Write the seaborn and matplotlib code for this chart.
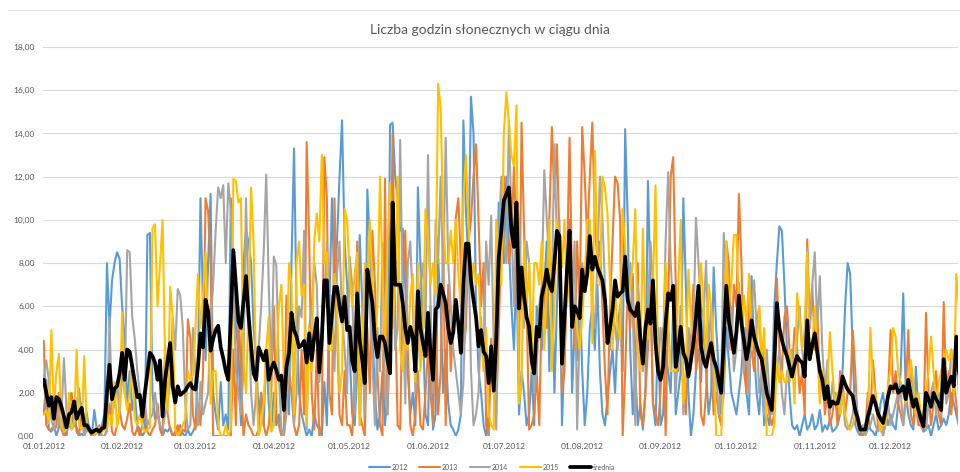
import numpy as np
import pandas as pd
import matplotlib
matplotlib.use("Agg")
import matplotlib.pyplot as plt
import seaborn as sns
from matplotlib.lines import Line2D

# ---------------- data (hours of sunshine per day) -------------
month_labels = ["01.01.2012", "01.02.2012", "01.03.2012", "01.04.2012", "01.05.2012",
                "01.06.2012", "01.07.2012", "01.08.2012", "01.09.2012", "01.10.2012",
                "01.11.2012", "01.12.2012"]
month_starts = [0, 31, 60, 91, 121, 152, 182, 213, 244, 274, 305, 335]
y_ticks = [0, 2, 4, 6, 8, 10, 12, 14, 16, 18]

y2012 = [
    1.0,2.6,0.3,0.2,0.5,0.0,0.4,1.2,0.3,0.0,0.8,0.5,1.5,0.2,0.0,0.1,0.0,1.1,0.2,0.0,1.2,0.3,0.0,0.5,1.0,8.0,5.0,7.2,8.0,8.5,8.2,
    6.0,4.5,1.5,3.0,1.2,2.0,0.5,0.3,0.0,0.2,9.3,9.4,2.0,0.8,1.0,0.5,0.0,0.3,0.2,0.4,0.0,0.0,0.3,0.5,0.1,0.0,0.3,0.0,0.2,
    0.5,3.0,11.0,6.0,3.5,8.0,11.2,2.0,1.0,0.3,2.5,0.5,1.0,0.3,11.0,8.0,5.0,4.0,0.5,8.0,9.5,9.0,8.0,5.0,3.5,1.0,2.0,0.5,4.0,1.5,0.3,
    2.0,0.5,1.0,0.3,0.0,3.0,1.0,8.0,13.3,6.0,2.0,1.0,0.5,0.0,0.3,0.0,1.0,0.5,0.3,0.0,2.5,0.5,6.0,11.0,7.0,9.0,12.0,14.6,9.0,7.0,
    4.0,1.0,0.5,3.0,9.3,6.0,0.5,11.4,9.0,5.0,2.0,0.3,1.0,3.0,0.5,2.0,14.4,14.5,12.0,11.0,9.5,9.6,7.0,3.0,1.0,2.0,0.5,11.5,8.0,5.0,1.0,
    0.5,6.0,0.3,1.0,8.2,6.0,2.0,4.0,1.5,0.5,0.3,0.0,0.3,1.0,14.6,10.4,8.0,15.7,14.0,6.0,3.0,2.0,0.5,0.0,1.0,3.5,2.0,6.0,10.8,10.0,
    8.0,12.0,9.0,6.0,4.0,8.0,1.0,3.0,2.0,0.5,1.0,3.0,0.5,6.0,5.0,4.0,7.0,9.0,3.0,8.0,2.0,6.0,9.0,0.5,4.0,7.0,10.0,2.0,5.0,3.5,7.0,
    3.0,0.5,2.0,5.0,6.0,4.0,7.0,3.0,1.0,0.5,1.7,3.0,4.0,2.0,5.0,6.0,3.0,14.2,10.0,4.0,1.0,3.0,0.5,1.5,0.3,2.0,11.8,7.0,1.5,0.5,5.0,
    0.5,1.0,4.0,3.0,2.0,6.0,1.0,2.0,3.0,11.0,7.0,2.0,0.0,1.0,3.0,4.0,2.5,5.5,3.0,1.0,2.0,7.8,5.0,3.0,1.0,2.0,5.0,3.5,2.0,1.5,
    1.0,2.0,3.0,5.0,2.0,1.0,7.4,4.0,2.0,1.0,3.0,0.5,1.0,0.5,2.0,6.0,8.0,9.7,9.5,7.0,4.0,2.0,0.5,0.3,0.5,0.0,0.5,1.0,0.3,0.5,1.0,
    0.3,0.5,1.2,0.2,0.5,0.3,0.8,0.2,0.3,0.5,1.0,3.0,6.0,8.0,7.5,4.0,0.5,0.2,0.0,0.3,0.5,1.0,0.3,0.2,0.0,0.5,1.5,2.0,1.0,0.5,
    1.0,0.5,0.3,1.5,3.0,6.6,2.0,1.0,0.5,0.3,3.2,1.0,0.5,0.2,0.3,0.5,0.0,0.5,1.0,0.3,0.5,0.8,0.5,1.0,2.0,1.5,1.0,0.5,1.0,2.0,1.5,
]

y2013 = [
    4.4,0.5,0.3,0.3,0.5,0.4,2.0,0.3,0.0,0.2,1.5,2.0,0.5,0.4,0.0,1.5,0.5,0.2,0.4,0.0,0.0,0.2,0.5,0.0,0.0,0.3,1.5,0.2,0.0,0.5,1.2,
    0.5,0.3,0.8,1.5,0.2,0.0,0.4,0.0,0.5,1.2,0.2,0.0,0.3,0.5,1.5,0.3,0.0,4.2,1.0,0.3,0.0,0.2,0.5,0.0,0.3,0.2,5.4,4.5,1.0,
    0.3,1.5,0.5,3.0,11.0,10.4,8.0,0.0,0.0,0.0,0.0,0.0,0.0,0.0,0.0,4.0,0.5,6.0,3.0,0.0,1.0,0.5,0.3,0.0,0.0,0.3,2.0,0.5,0.0,0.5,2.0,
    6.0,1.0,0.5,0.0,0.3,6.5,3.0,2.0,0.5,0.0,0.5,4.0,1.0,13.6,9.0,2.0,0.3,4.0,0.0,0.5,12.9,11.0,2.0,1.0,11.0,5.0,1.0,0.5,3.0,0.5,
    0.5,0.0,3.0,9.0,1.0,0.5,0.0,5.0,2.0,9.5,7.0,3.0,0.5,0.0,11.9,1.0,5.0,14.0,6.0,0.5,0.3,7.0,9.5,4.0,0.5,0.0,1.0,3.0,0.5,0.3,2.0,
    4.0,2.0,0.5,6.0,1.0,3.0,9.0,0.5,7.0,3.0,5.0,10.1,11.0,8.0,4.0,5.0,9.0,10.0,12.0,13.5,10.0,6.0,8.0,0.5,0.0,4.5,2.0,1.0,5.0,9.0,
    12.0,10.0,8.0,9.0,12.5,9.0,3.0,14.5,9.5,6.0,0.3,0.5,1.0,3.0,0.5,6.0,7.0,5.0,10.0,14.3,11.0,13.5,9.0,2.0,3.0,8.0,13.8,7.0,4.0,9.0,6.0,
    14.3,12.0,9.0,12.0,14.5,10.0,8.0,9.0,6.0,3.0,1.0,6.0,9.0,12.0,11.7,10.0,0.0,3.0,7.0,5.0,7.5,2.0,8.0,1.0,0.5,2.0,4.0,7.0,1.5,1.0,0.5,
    2.0,5.0,0.0,6.0,12.0,12.9,7.0,3.0,6.0,2.0,1.0,5.0,4.0,7.0,3.0,6.0,1.0,0.5,2.0,5.0,3.5,1.0,2.0,1.0,0.5,4.0,9.0,8.0,4.0,7.0,
    6.0,11.2,8.0,3.0,2.0,6.9,4.0,3.0,5.0,6.0,3.0,4.0,2.0,1.0,0.5,1.0,7.3,4.0,3.0,5.5,6.0,4.0,3.0,5.0,4.0,2.0,3.0,1.0,9.1,5.0,7.0,
    4.0,6.0,2.0,3.0,1.0,2.0,0.5,1.0,2.0,0.5,3.0,2.5,1.0,2.0,2.0,4.9,3.0,0.5,0.2,0.0,0.3,2.0,1.0,3.5,2.0,0.5,0.3,0.2,1.0,2.0,
    4.9,2.0,3.0,1.5,1.0,0.5,2.0,4.9,1.0,0.5,1.5,0.5,0.5,0.3,5.7,2.0,0.5,1.5,3.0,1.0,0.5,6.2,2.0,3.0,1.0,2.5,1.5,0.5,2.0,1.0,0.5,
]

y2014 = [
    2.7,3.5,2.6,0.8,0.3,1.5,0.5,1.0,3.6,1.2,0.5,0.3,0.5,1.5,2.2,0.8,0.0,0.3,0.5,0.0,0.0,0.4,0.3,0.0,0.0,0.2,5.5,1.0,1.5,2.5,1.0,
    3.0,2.0,8.6,8.5,5.5,4.5,3.0,2.0,1.0,1.5,0.5,0.8,1.0,2.0,1.0,0.5,0.3,1.0,1.5,2.5,5.5,4.0,6.8,6.5,5.0,1.5,0.3,0.5,5.0,
    3.0,0.5,2.5,1.0,1.5,2.0,5.0,7.0,9.5,11.5,11.0,11.6,8.0,11.7,10.5,7.0,3.0,2.0,1.0,3.0,11.0,6.0,2.0,0.5,2.0,4.0,6.0,8.5,12.1,7.0,3.0,
    8.3,7.9,3.0,0.3,0.0,1.0,3.5,6.0,0.5,2.0,6.0,5.5,9.5,0.3,5.0,6.0,8.0,7.0,2.5,4.5,6.0,9.0,5.0,6.5,3.0,7.5,9.0,5.5,4.0,2.0,
    8.3,7.0,1.0,6.5,0.5,4.0,1.0,8.0,6.0,3.5,0.5,5.0,3.0,8.9,2.0,1.0,7.0,9.5,4.0,5.0,13.7,6.0,1.5,8.0,9.0,6.0,2.0,4.0,7.0,8.0,5.0,
    13.0,6.0,2.0,10.0,8.0,12.0,7.0,13.8,8.0,6.0,4.0,3.0,2.0,1.0,2.5,6.5,9.0,3.0,0.5,1.0,2.0,5.5,3.0,9.0,7.0,10.2,4.0,0.3,9.0,12.0,
    9.0,8.0,14.6,10.0,6.0,11.0,10.0,6.0,5.0,9.0,8.0,4.0,2.0,3.0,6.0,7.0,12.3,10.0,8.0,7.0,13.5,9.0,10.0,3.0,5.0,7.0,8.0,6.0,9.0,0.3,5.0,
    8.0,7.0,9.0,10.0,6.0,5.0,8.0,12.0,10.0,7.0,5.0,4.0,6.0,5.0,4.0,6.0,7.0,7.2,6.0,8.0,6.0,0.5,7.0,5.0,3.0,4.0,6.0,9.0,7.0,5.0,3.0,
    5.0,4.0,9.0,12.2,8.0,6.0,2.0,4.0,6.0,1.0,3.0,5.0,3.0,5.0,10.1,8.0,6.0,5.5,8.1,4.0,6.0,2.0,3.0,1.0,2.5,9.4,7.0,4.0,6.0,3.0,
    4.0,7.1,5.0,3.0,5.5,2.0,6.0,7.2,5.0,2.0,3.0,1.0,4.0,2.0,1.0,2.5,3.0,4.0,2.0,1.0,3.0,2.5,4.0,3.0,4.5,6.0,4.0,3.0,8.7,5.0,7.0,
    8.5,5.0,7.4,4.0,2.0,3.5,1.0,2.5,1.5,2.0,1.0,2.0,0.5,0.3,0.5,1.0,2.0,1.0,0.3,0.5,0.0,0.3,0.5,1.0,0.5,0.2,0.5,0.0,0.5,1.5,
    0.5,1.0,1.5,2.0,2.0,0.5,1.5,2.5,3.0,2.0,1.0,1.5,1.0,0.5,0.3,1.5,2.0,2.5,1.0,2.0,1.0,3.5,1.5,2.0,4.0,3.0,3.5,2.0,2.5,3.0,2.0,
]

y2015 = [
    1.0,1.2,0.6,4.9,1.2,3.0,3.8,0.5,0.2,0.3,2.0,0.3,0.6,4.0,0.5,0.3,3.7,0.4,0.2,0.1,0.0,0.3,0.4,0.2,0.3,0.4,1.0,0.5,2.5,0.4,1.2,
    5.7,2.0,1.2,2.0,3.5,0.8,0.5,1.0,0.5,0.2,0.3,0.4,9.6,9.8,6.0,8.0,10.0,3.5,1.2,6.9,5.5,0.3,0.0,0.2,0.5,0.8,3.0,2.6,2.8,
    5.0,7.5,5.0,6.5,8.5,5.0,1.5,3.0,3.0,0.5,0.0,0.0,0.5,0.0,0.3,11.9,11.8,10.8,11.0,3.5,2.0,6.0,11.5,9.0,2.5,0.0,0.5,1.5,4.0,5.5,0.2,
    0.5,3.0,6.0,7.0,2.5,2.0,8.0,7.0,1.0,8.0,9.0,6.5,7.0,0.5,5.0,3.0,9.0,10.3,9.0,13.0,8.0,8.5,4.0,4.0,7.5,6.0,2.0,3.0,10.5,10.0,
    7.4,6.0,7.5,8.5,0.5,4.0,8.0,6.5,10.0,7.0,4.0,6.0,12.0,7.5,4.0,9.0,11.7,5.0,7.0,12.0,4.0,3.0,5.0,4.0,6.5,7.5,2.5,8.0,3.0,4.5,10.5,
    9.0,7.0,8.0,6.5,16.3,15.2,10.0,8.0,8.0,9.5,8.0,10.0,7.5,6.0,11.0,13.0,10.0,7.0,8.0,7.0,7.5,4.5,3.0,5.0,1.0,0.5,0.3,10.0,8.0,7.0,
    14.0,15.9,14.5,13.0,12.5,15.3,1.5,2.5,9.0,6.0,8.0,3.0,8.0,8.0,7.0,9.0,4.0,7.0,10.0,3.0,6.0,10.0,9.0,7.8,10.0,6.0,8.0,5.0,6.0,5.0,4.0,
    5.5,7.3,10.0,10.0,4.3,13.2,8.2,7.0,12.0,11.5,10.3,7.0,4.0,6.8,5.0,4.5,10.5,8.8,6.0,7.0,8.0,10.5,4.0,3.0,9.6,5.0,4.5,5.4,7.0,11.6,3.0,
    3.0,3.0,8.0,5.5,3.0,3.0,3.0,7.0,10.0,1.5,3.0,7.7,5.5,4.0,6.0,6.5,8.0,6.0,3.5,7.0,6.0,4.0,0.0,0.0,0.0,3.0,9.0,6.0,7.0,9.3,
    9.3,6.0,5.0,6.5,5.0,7.5,4.0,4.5,4.0,6.0,3.5,5.0,0.0,0.0,0.0,0.5,3.5,2.5,3.0,2.5,2.5,4.0,3.5,1.5,6.6,5.5,4.0,5.0,8.5,3.5,4.0,
    6.0,4.0,1.5,3.0,2.0,2.5,4.8,3.0,1.5,2.0,1.0,2.0,1.0,0.5,0.3,0.5,1.0,1.0,0.5,0.2,0.3,0.5,5.0,2.5,2.0,1.0,0.2,0.5,0.5,2.5,
    3.0,5.0,4.6,3.0,2.5,2.0,1.5,2.0,3.5,2.5,1.0,2.0,1.0,0.8,2.0,3.0,4.6,3.0,1.5,2.5,3.0,3.5,4.0,3.5,4.0,2.0,7.5,6.0,3.0,5.0,4.0,
]

srednia = [
    2.6,2.0,1.4,1.8,0.8,1.8,1.7,1.35,0.9,0.4,1.0,1.1,1.6,0.8,1.1,1.3,0.5,0.5,0.3,0.15,0.25,0.3,0.2,0.35,0.4,2.0,3.3,1.7,2.2,2.3,2.9,
    3.85,2.6,4.0,3.9,3.2,2.5,1.8,1.9,0.9,2.0,2.9,3.85,3.7,3.4,2.6,3.5,0.9,2.6,3.5,4.3,2.3,1.55,2.3,1.9,2.0,2.1,2.3,2.45,2.2,
    2.15,3.2,4.75,4.1,6.3,5.8,3.95,4.5,4.9,5.1,4.1,3.6,3.0,2.6,5.5,8.6,7.0,5.3,5.0,6.2,7.4,5.6,4.2,2.9,2.6,4.1,3.8,3.5,3.95,2.6,3.1,
    3.4,3.05,2.6,2.8,1.2,3.2,3.85,5.7,4.9,4.6,4.1,4.2,4.4,3.4,4.75,3.5,4.6,5.45,2.95,4.5,7.2,7.2,4.3,5.6,6.9,6.9,6.0,5.3,6.45,4.9,
    5.05,3.5,3.0,6.6,4.4,3.5,2.45,7.7,6.9,6.15,4.5,3.65,4.6,4.6,4.3,3.5,2.9,10.8,7.0,7.0,7.0,6.15,5.0,4.3,5.05,4.6,3.0,6.7,5.0,4.3,3.7,
    5.7,3.8,2.6,5.85,6.0,7.0,6.6,6.15,5.0,4.3,4.8,6.3,5.2,3.85,7.0,8.9,8.9,7.2,6.3,5.5,4.15,4.9,3.9,3.7,2.45,4.15,2.1,4.5,8.3,9.5,
    10.9,11.2,11.5,9.5,8.75,10.8,5.9,7.8,6.45,5.5,5.05,3.5,2.9,5.05,4.6,6.45,7.0,7.7,7.0,6.7,8.0,9.5,9.25,3.35,5.5,7.7,9.5,5.05,6.0,5.8,5.45,
    7.7,6.7,7.5,9.25,7.7,8.3,7.8,7.5,7.2,6.3,4.3,5.0,5.85,7.2,6.45,6.6,6.7,8.3,6.3,5.85,5.7,5.55,6.15,4.5,3.35,5.0,5.85,5.2,7.2,4.3,3.0,
    2.6,3.2,5.2,6.6,6.3,6.95,3.2,4.0,5.05,3.85,3.55,2.75,3.5,4.3,5.5,6.95,4.15,3.5,3.2,3.8,4.3,3.55,3.2,2.6,2.0,4.5,6.95,5.35,4.6,3.85,
    4.8,6.5,5.2,4.4,3.55,4.2,5.35,4.6,4.15,3.8,3.55,2.8,2.0,1.6,1.2,3.5,6.15,5.0,4.45,4.0,3.7,3.2,2.75,3.3,3.7,3.5,3.4,2.75,5.35,3.55,4.2,
    4.75,3.85,3.0,2.6,1.7,2.3,1.35,1.6,1.5,1.5,2.0,2.75,2.4,2.15,2.0,1.85,1.2,0.8,0.3,0.3,0.3,0.9,1.35,1.85,1.5,1.05,0.8,0.6,1.2,1.85,
    2.3,2.2,2.4,2.0,2.1,2.3,1.7,2.6,1.9,1.35,1.7,1.2,0.8,0.45,2.0,1.7,1.35,2.0,1.7,1.5,1.2,3.55,2.0,2.4,2.75,2.3,4.6,3.0,2.4,3.1,2.6,
]

series_names = ["2012", "2013", "2014", "2015", "średnia"]
series_values = [y2012, y2013, y2014, y2015, srednia]
series_colors = ["#5B9BD5", "#ED7D31", "#A5A5A5", "#FFC000", "#000000"]
series_widths = [1.5, 1.5, 1.5, 1.5, 2.7]

# ---------------- drawing ----------------
sns.set_theme(style="white")
plt.rcParams["font.family"] = ["Lato", "DejaVu Sans"]

W, H = 960, 472
fig = plt.figure(figsize=(W / 100, H / 100), dpi=100, facecolor="white")
ax = fig.add_axes([43 / W, (H - 436) / H, (958 - 43) / W, (436 - 47) / H])
ax.set_facecolor("white")

frames = []
for name, vals in zip(series_names, series_values):
    frames.append(pd.DataFrame({"day": np.arange(len(vals)), "value": vals, "series": name}))
df = pd.concat(frames, ignore_index=True)

for name, color, lw in zip(series_names, series_colors, series_widths):
    sub = df[df["series"] == name]
    sns.lineplot(data=sub, x="day", y="value", ax=ax, color=color, linewidth=lw,
                 legend=False, zorder=3 if name == "średnia" else 2)

ax.set_xlim(-0.3, (958 - 43) / 2.53)
ax.set_ylim(0, 18)
ax.set_yticks(y_ticks)
ax.set_yticklabels([f"{v:.2f}".replace(".", ",") for v in y_ticks], fontsize=6, color="#595959")
ax.set_xticks(month_starts)
ax.set_xticklabels(month_labels, fontsize=6, color="#595959")
ax.tick_params(axis="both", length=0, pad=6)
ax.tick_params(axis="x", pad=5)
ax.set_xlabel("")
ax.set_ylabel("")
ax.grid(axis="y", color="#d9d9d9", linewidth=0.8)
ax.grid(axis="x", visible=False)
ax.set_axisbelow(True)
for s in ax.spines.values():
    s.set_visible(False)

fig.text(490 / W, 1 - 30 / H, "Liczba godzin słonecznych w ciągu dnia",
         ha="center", va="center", fontsize=10, color="#595959")

# faint outer chart border at the top
fig.add_artist(Line2D([8 / W, 1.0], [1 - 10 / H, 1 - 10 / H], color="#e3e3e3", linewidth=0.8))

handles = [Line2D([0], [0], color=c, linewidth=lw) for c, lw in zip(series_colors, series_widths)]
leg = fig.legend(handles, series_names, loc="center", bbox_to_anchor=(492 / W, 1 - 467 / H),
                 ncol=5, frameon=False, fontsize=5, handlelength=3.0, handletextpad=0.2,
                 columnspacing=1.7, labelcolor="#595959")

fig.savefig("out.png", dpi=100, facecolor="white")
